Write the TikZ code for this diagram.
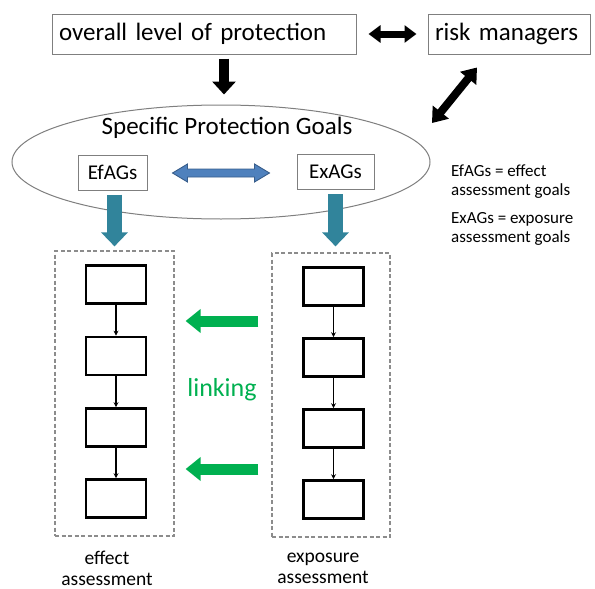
\documentclass[tikz,border=0pt]{standalone}
\usepackage{fontspec}
\setmainfont{Carlito}
\usetikzlibrary{arrows.meta,calc,shapes.geometric}
\definecolor{boxgray}{HTML}{7F7F7F}
\definecolor{dashgray}{HTML}{8C8C8C}
\definecolor{tealc}{HTML}{31849B}
\definecolor{bluef}{HTML}{4F81BD}
\definecolor{blued}{HTML}{385D8A}
\definecolor{greenc}{HTML}{00B050}
\begin{document}
\begin{tikzpicture}[x=1pt,y=-1pt,
  topbox/.style={draw=boxgray, line width=1pt, minimum height=40pt, inner xsep=7pt, align=left, font=\fontsize{25}{30}\selectfont},
  goalbox/.style={draw=boxgray, line width=1pt, minimum height=35pt, inner sep=0pt, font=\fontsize{21}{25}\selectfont},
  stepbox/.style={draw=black, line width=2.6pt, minimum width=60pt, minimum height=38pt, inner sep=0pt},
  dashbox/.style={draw=dashgray, line width=1.2pt, dash pattern=on 4pt off 2.5pt},
  smallarrow/.style={draw=black, line width=1.2pt, -{Stealth[length=5pt,width=5pt]}},
  blackarrow/.style={draw=black, line width=#1},
  tealarrow/.style={draw=tealc, line width=15pt, -{Triangle[width=26pt,length=14pt]}},
  greenarrow/.style={draw=greenc, line width=11pt, -{Triangle[width=23pt,length=15pt]}},
  legend/.style={align=left, anchor=west, inner sep=0pt, font=\fontsize{17}{19}\selectfont},
  label/.style={align=center, inner sep=0pt, font=\fontsize{19.5}{21}\selectfont}
]
\useasboundingbox (0,0) rectangle (595,589);

% top boxes
\node[topbox, text width=290pt] (prot) at (204,34) {overall level of protection};
\node[topbox, text width=148pt] (risk) at (509,34) {risk managers};

% ellipse of specific protection goals
\node[draw=boxgray, line width=1pt, ellipse, minimum width=418pt, minimum height=114pt] (spg) at (221,162) {};
\node[font=\fontsize{25}{30}\selectfont, inner sep=0pt] (spgt) at (227,128) {Specific Protection Goals};

\node[goalbox, minimum width=69pt] (ef) at (112.5,172.5) {EfAGs};
\node[goalbox, minimum width=77pt] (ex) at (335.5,172) {ExAGs};

% black arrows
\draw[blackarrow=10pt, -{Triangle[width=23pt,length=13pt]}] ($(prot.south)+(20,4)$) -- ($(spg.north)+(3,-10)$);
\draw[blackarrow=7pt, {Triangle[width=17pt,length=12pt]}-{Triangle[width=17pt,length=12pt]}] ($(prot.east)+(12,0)$) -- ($(risk.west)+(-11,0)$);
\coordinate (dtop) at ($(risk.south)+(-32,13)$);
\coordinate (dbot) at (432,123);
\draw[blackarrow=8pt, {Triangle[width=20pt,length=14pt]}-{Triangle[width=20pt,length=14pt]}] (dtop) -- (dbot);

% blue double arrow
\coordinate (bl) at ($(ef.east)+(25,0.5)$);
\coordinate (br) at ($(ex.west)+(-27,1)$);
\fill[bluef, draw=blued, line width=0.9pt]
  (bl) -- ($(bl)+(15,-9)$) -- ($(bl)+(15,-4)$) -- ($(br)+(-15,-4)$) -- ($(br)+(-15,-9)$) -- (br)
  -- ($(br)+(-15,9)$) -- ($(br)+(-15,4)$) -- ($(bl)+(15,4)$) -- ($(bl)+(15,9)$) -- cycle;

% dashed boxes
\node[dashbox, minimum width=119pt, minimum height=285pt, inner sep=0pt] (effa) at (114.5,393.5) {};
\node[dashbox, minimum width=118pt, minimum height=284pt, inner sep=0pt] (expa) at (331,395) {};

% teal arrows
\draw[tealarrow] ($(ef.south)+(2,4)$) -- ($(ef.south |- effa.north)+(2,-4)$);
\draw[tealarrow] ($(ex.south)+(0,4)$) -- ($(ex.south |- expa.north)+(0,-6)$);

% step boxes, effect side
\node[stepbox] (e1) at (116,284.5) {};
\node[stepbox] (e2) at (116,356) {};
\node[stepbox] (e3) at (116,427.5) {};
\node[stepbox] (e4) at (116,498.5) {};
% step boxes, exposure side
\node[stepbox] (x1) at (333.5,286.5) {};
\node[stepbox] (x2) at (333.5,357.5) {};
\node[stepbox] (x3) at (333.5,428.5) {};
\node[stepbox] (x4) at (333.5,499.5) {};

\draw[smallarrow] (e1) -- (e2);
\draw[smallarrow] (e2) -- (e3);
\draw[smallarrow] (e3) -- (e4);
\draw[smallarrow] (x1) -- (x2);
\draw[smallarrow] (x2) -- (x3);
\draw[smallarrow] (x3) -- (x4);

% green linking arrows
\coordinate (g1s) at ($(expa.west |- 0,321)+(-13,0)$);
\coordinate (g1e) at ($(effa.east |- 0,321)+(11,0)$);
\coordinate (g2s) at ($(expa.west |- 0,469)+(-13,0)$);
\coordinate (g2e) at ($(effa.east |- 0,469)+(11,0)$);
\draw[greenarrow] (g1s) -- (g1e);
\draw[greenarrow] (g2s) -- (g2e);
\node[text=greenc, inner sep=0pt, font=\fontsize{26}{30}\selectfont] (link) at (222,390) {linking};

% legend
\node[legend] (leg1) at (451,182) {EfAGs = effect\\assessment goals};
\node[legend] (leg2) at (451,229) {ExAGs = exposure\\assessment goals};

% bottom labels
\node[label] (effl) at (107,568) {effect\\assessment};
\node[label] (expl) at (323,568) {exposure\\assessment};
\end{tikzpicture}
\end{document}
